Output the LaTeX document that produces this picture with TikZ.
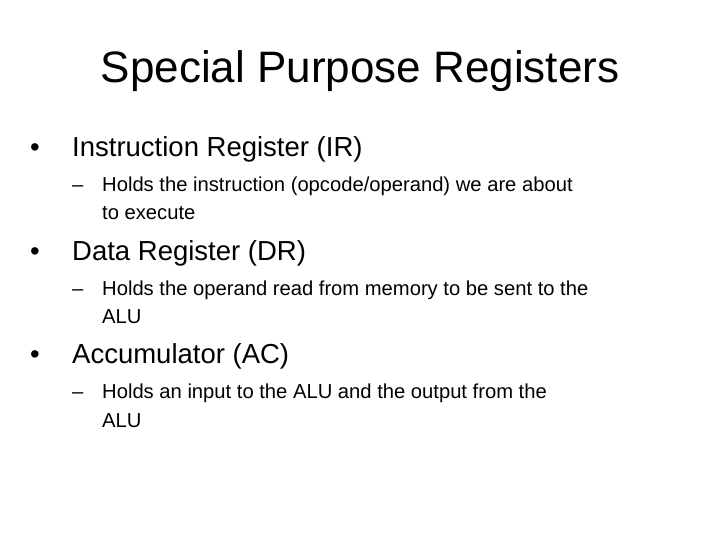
\documentclass[tikz,border=0pt]{standalone}
\usepackage{fontspec}
\setmainfont{Liberation Sans}
\begin{document}
\begin{tikzpicture}[x=1pt,y=-1pt,
  ttl/.style={inner sep=0pt,anchor=base,font=\fontsize{44}{52}\selectfont},
  lvone/.style={inner sep=0pt,anchor=base west,font=\fontsize{27.5}{30}\selectfont},
  lvtwo/.style={inner sep=0pt,anchor=base west,font=\fontsize{20.2}{26}\selectfont}]
\useasboundingbox[fill=white] (0,0) rectangle (720,540);
\node[ttl] (t) at (360,83) {Special Purpose Registers};
\node[lvone] (b1) at (30,157) {•};
\node[lvone] (i1) at (72,157) {Instruction Register (IR)};
\node[lvtwo] (d1) at (72,192) {–};
\node[lvtwo] (s1a) at (102,192) {Holds the instruction (opcode/operand) we are about};
\node[lvtwo] (s1b) at (102,220) {to execute};
\node[lvone] (b2) at (30,260) {•};
\node[lvone] (i2) at (72,260) {Data Register (DR)};
\node[lvtwo] (d2) at (72,295) {–};
\node[lvtwo] (s2a) at (102,295) {Holds the operand read from memory to be sent to the};
\node[lvtwo] (s2b) at (102,323) {ALU};
\node[lvone] (b3) at (30,363) {•};
\node[lvone] (i3) at (72,363) {Accumulator (AC)};
\node[lvtwo] (d3) at (72,398) {–};
\node[lvtwo] (s3a) at (102,398) {Holds an input to the ALU and the output from the};
\node[lvtwo] (s3b) at (102,427) {ALU};
\end{tikzpicture}
\end{document}
